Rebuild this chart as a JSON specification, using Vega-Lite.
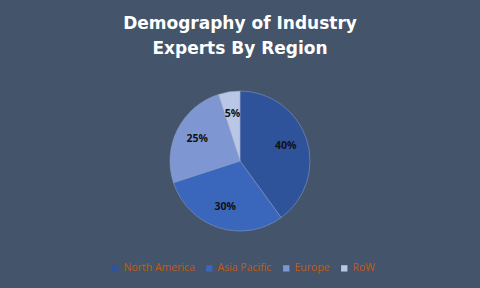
{
  "$schema": "https://vega.github.io/schema/vega-lite/v6.json",
  "width": 480,
  "height": 200,
  "autosize": {"type": "none"},
  "padding": {"top": 61, "bottom": 27, "left": 0, "right": 0},
  "background": "#44546A",
  "title": {
    "text": ["Demography of Industry", "Experts By Region"],
    "font": "DejaVu Sans",
    "fontSize": 17,
    "fontWeight": "bold",
    "color": "#FFFFFF",
    "lineHeight": 25,
    "anchor": "middle",
    "offset": 3
  },
  "config": {"view": {"stroke": null}},
  "data": {
    "values": [
      {"region": "North America", "share": 40, "label": "40%", "ord": 1},
      {"region": "Asia Pacific", "share": 30, "label": "30%", "ord": 2},
      {"region": "Europe", "share": 25, "label": "25%", "ord": 3},
      {"region": "RoW", "share": 5, "label": "5%", "ord": 4}
    ]
  },
  "encoding": {
    "theta": {"field": "share", "type": "quantitative", "stack": true},
    "order": {"field": "ord", "type": "ordinal"}
  },
  "layer": [
    {
      "mark": {"type": "arc", "outerRadius": 70, "stroke": "#8FA3C8", "strokeWidth": 0.5},
      "encoding": {
        "color": {
          "field": "region",
          "type": "nominal",
          "sort": ["North America", "Asia Pacific", "Europe", "RoW"],
          "scale": {
            "domain": ["North America", "Asia Pacific", "Europe", "RoW"],
            "range": ["#2E539B", "#3A67BC", "#7E97D2", "#BAC6E5"]
          },
          "legend": {
            "title": null,
            "orient": "none",
            "direction": "horizontal",
            "legendX": 110,
            "legendY": 202,
            "symbolType": "square",
            "symbolSize": 40,
            "symbolStrokeWidth": 0,
            "labelColor": "#C55A11",
            "labelFont": "Open Sans",
            "labelFontSize": 10.5,
            "labelOffset": 3,
            "columnPadding": 9
          }
        }
      }
    },
    {
      "mark": {"type": "text", "radius": 48, "font": "Open Sans", "fontSize": 10.5, "fontWeight": "bold", "color": "#111111"},
      "encoding": {
        "text": {"field": "label"}
      }
    }
  ]
}
